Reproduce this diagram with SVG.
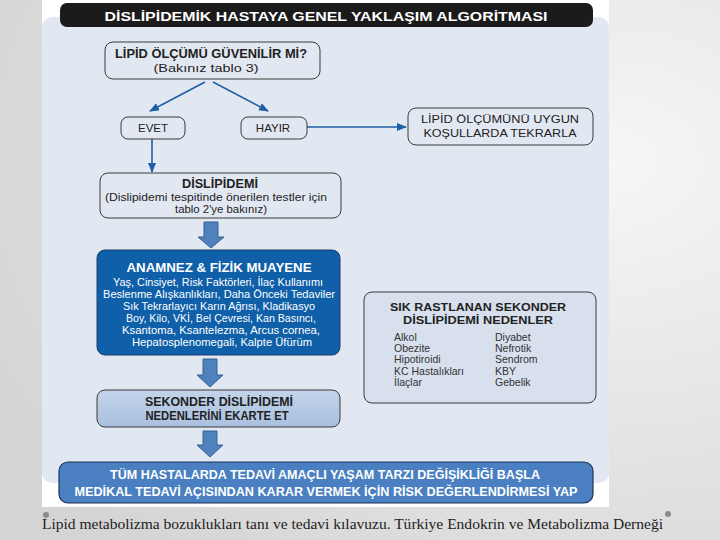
<svg xmlns="http://www.w3.org/2000/svg" width="720" height="540" viewBox="0 0 720 540">
<defs>
<radialGradient id="bg" cx="0.85" cy="0.3" r="0.95">
<stop offset="0" stop-color="#f6f6f6"/>
<stop offset="1" stop-color="#d5d5d5"/>
</radialGradient>
<linearGradient id="sek" x1="0" y1="0" x2="0" y2="1">
<stop offset="0" stop-color="#c3d4ea"/>
<stop offset="1" stop-color="#a9c0df"/>
</linearGradient>
<marker id="ah" markerWidth="10" markerHeight="8" refX="9" refY="4" orient="auto" markerUnits="userSpaceOnUse">
<path d="M0,0 L10,4 L0,8 Z" fill="#1f5fa6"/>
</marker>
<style>
.box{fill:#e2e8f2;stroke:#3a3a3a;stroke-width:1}
.t{font-family:"Liberation Sans",Arial,sans-serif;text-anchor:middle;fill:#222}
.b{font-weight:bold}
.w{fill:#fff}
.l{font-family:"Liberation Sans",Arial,sans-serif;font-size:10.5px;fill:#333}
.conn{stroke:#1f5fa6;stroke-width:1.6;fill:none}
.blk{fill:#4f81bd;stroke:#375f91;stroke-width:1}
</style>
</defs>
<rect x="0" y="0" width="720" height="540" fill="url(#bg)"/>
<rect x="42" y="0" width="567" height="507" fill="#ffffff"/>
<rect x="42" y="17" width="567" height="466" rx="10" fill="#e2e8f2"/>
<g id="title">
<rect x="60" y="3" width="533" height="24" rx="7" fill="#1b1b1b"/>
<text x="326" y="20.5" class="t b w" font-size="13.5" textLength="443" lengthAdjust="spacingAndGlyphs">DİSLİPİDEMİK HASTAYA GENEL YAKLAŞIM ALGORİTMASI</text>
</g>
<g id="connectors">
<line x1="205" y1="82" x2="150" y2="111" class="conn" marker-end="url(#ah)"/>
<line x1="213" y1="82" x2="268" y2="111" class="conn" marker-end="url(#ah)"/>
<line x1="307" y1="127" x2="406" y2="127" class="conn" marker-end="url(#ah)"/>
<line x1="152" y1="139" x2="152" y2="172" class="conn" marker-end="url(#ah)"/>
<path class="blk" d="M204,222 H218 V237 H224 L211,248 L198,237 H204 Z"/>
<path class="blk" d="M203,359 H217 V375 H223 L210,387 L197,375 H203 Z"/>
<path class="blk" d="M203,431 H217 V445 H223 L210,457 L197,445 H203 Z"/>
</g>
<g id="n-lipid">
<rect x="105" y="42" width="215" height="37" rx="8" class="box"/>
<text x="211" y="58" class="t b" font-size="12" textLength="192" lengthAdjust="spacingAndGlyphs">LİPİD ÖLÇÜMÜ GÜVENİLİR Mİ?</text>
<text x="206" y="71.5" class="t" font-size="11.5" textLength="105" lengthAdjust="spacingAndGlyphs">(Bakınız tablo 3)</text>
</g>
<g id="n-evet">
<rect x="121" y="117" width="64" height="22" rx="7" class="box"/>
<text x="153" y="132" class="t" font-size="11.5">EVET</text>
</g>
<g id="n-hayir">
<rect x="241" y="117" width="66" height="22" rx="7" class="box"/>
<text x="273" y="132" class="t" font-size="11.5">HAYIR</text>
</g>
<g id="n-tekrar">
<rect x="408" y="108" width="185" height="37" rx="8" class="box"/>
<text x="500" y="123" class="t" font-size="11.5" textLength="158" lengthAdjust="spacingAndGlyphs">LİPİD ÖLÇÜMÜNÜ UYGUN</text>
<text x="500" y="137" class="t" font-size="11.5" textLength="153" lengthAdjust="spacingAndGlyphs">KOŞULLARDA TEKRARLA</text>
</g>
<g id="n-dislipidemi">
<rect x="100" y="173" width="241" height="45" rx="8" class="box"/>
<text x="220" y="188" class="t b" font-size="12" textLength="76" lengthAdjust="spacingAndGlyphs">DİSLİPİDEMİ</text>
<text x="216" y="200.5" class="t" font-size="10.5" textLength="222" lengthAdjust="spacingAndGlyphs">(Dislipidemi tespitinde önerilen testler için</text>
<text x="221" y="212.5" class="t" font-size="10.5" textLength="92" lengthAdjust="spacingAndGlyphs">tablo 2'ye bakınız)</text>
</g>
<g id="n-anamnez">
<rect x="97" y="250" width="243" height="105" rx="8" fill="#0f5fa9" stroke="#1c3f6e" stroke-width="1"/>
<text x="219" y="271.5" class="t b w" font-size="12" textLength="185" lengthAdjust="spacingAndGlyphs">ANAMNEZ &amp; FİZİK MUAYENE</text>
<text x="218" y="286" class="t w" font-size="10.5" textLength="210" lengthAdjust="spacingAndGlyphs">Yaş, Cinsiyet, Risk Faktörleri, İlaç Kullanımı</text>
<text x="219" y="298" class="t w" font-size="10.5" textLength="232" lengthAdjust="spacingAndGlyphs">Beslenme Alışkanlıkları, Daha Önceki Tedaviler</text>
<text x="219" y="310" class="t w" font-size="10.5" textLength="192" lengthAdjust="spacingAndGlyphs">Sık Tekrarlayıcı Karın Ağrısı, Kladikasyo</text>
<text x="221" y="322" class="t w" font-size="10.5" textLength="190" lengthAdjust="spacingAndGlyphs">Boy, Kilo, VKİ, Bel Çevresi, Kan Basıncı,</text>
<text x="221" y="334" class="t w" font-size="10.5" textLength="198" lengthAdjust="spacingAndGlyphs">Ksantoma, Ksantelezma, Arcus cornea,</text>
<text x="222" y="346" class="t w" font-size="10.5" textLength="180" lengthAdjust="spacingAndGlyphs">Hepatosplenomegali, Kalpte Üfürüm</text>
</g>
<g id="n-nedenler">
<rect x="364" y="292" width="232" height="111" rx="8" fill="#d8e0ee" stroke="#3a3a3a" stroke-width="1"/>
<text x="478" y="311" class="t b" font-size="11" textLength="176" lengthAdjust="spacingAndGlyphs">SIK RASTLANAN SEKONDER</text>
<text x="478" y="324" class="t b" font-size="11" textLength="150" lengthAdjust="spacingAndGlyphs">DİSLİPİDEMİ NEDENLER</text>
<text x="394" y="341" class="l">Alkol</text>
<text x="394" y="352" class="l">Obezite</text>
<text x="394" y="363" class="l">Hipotiroidi</text>
<text x="394" y="375" class="l">KC Hastalıkları</text>
<text x="394" y="386" class="l">İlaçlar</text>
<text x="495" y="341" class="l">Diyabet</text>
<text x="495" y="352" class="l">Nefrotik</text>
<text x="495" y="363" class="l">Sendrom</text>
<text x="495" y="375" class="l">KBY</text>
<text x="495" y="386" class="l">Gebelik</text>
</g>
<g id="n-sekonder">
<rect x="97" y="390" width="243" height="37" rx="8" fill="url(#sek)" stroke="#3a3a3a" stroke-width="1"/>
<text x="219" y="406" class="t b" font-size="12" textLength="148" lengthAdjust="spacingAndGlyphs">SEKONDER DİSLİPİDEMİ</text>
<text x="217" y="420" class="t b" font-size="12" textLength="143" lengthAdjust="spacingAndGlyphs">NEDENLERİNİ EKARTE ET</text>
</g>
<g id="n-tum">
<rect x="59" y="462" width="534" height="41" rx="9" fill="#4a7fc1" stroke="#1d3556" stroke-width="1.2"/>
<text x="325" y="478.5" class="t b w" font-size="12.5" textLength="430" lengthAdjust="spacingAndGlyphs">TÜM HASTALARDA TEDAVİ AMAÇLI YAŞAM TARZI DEĞİŞİKLİĞİ BAŞLA</text>
<text x="326" y="495.5" class="t b w" font-size="12.5" textLength="503" lengthAdjust="spacingAndGlyphs">MEDİKAL TEDAVİ AÇISINDAN KARAR VERMEK İÇİN RİSK DEĞERLENDİRMESİ YAP</text>
</g>
<g id="footer">
<circle cx="46" cy="515" r="3" fill="#8a8a8a"/>
<circle cx="668" cy="514" r="3" fill="#8a8a8a"/>
<text x="42" y="529" font-family="'Liberation Serif','Times New Roman',serif" font-size="14.5" fill="#222" textLength="621" lengthAdjust="spacingAndGlyphs">Lipid metabolizma bozuklukları  tanı ve tedavi kılavuzu. Türkiye Endokrin ve Metabolizma Derneği</text>
</g>
</svg>
